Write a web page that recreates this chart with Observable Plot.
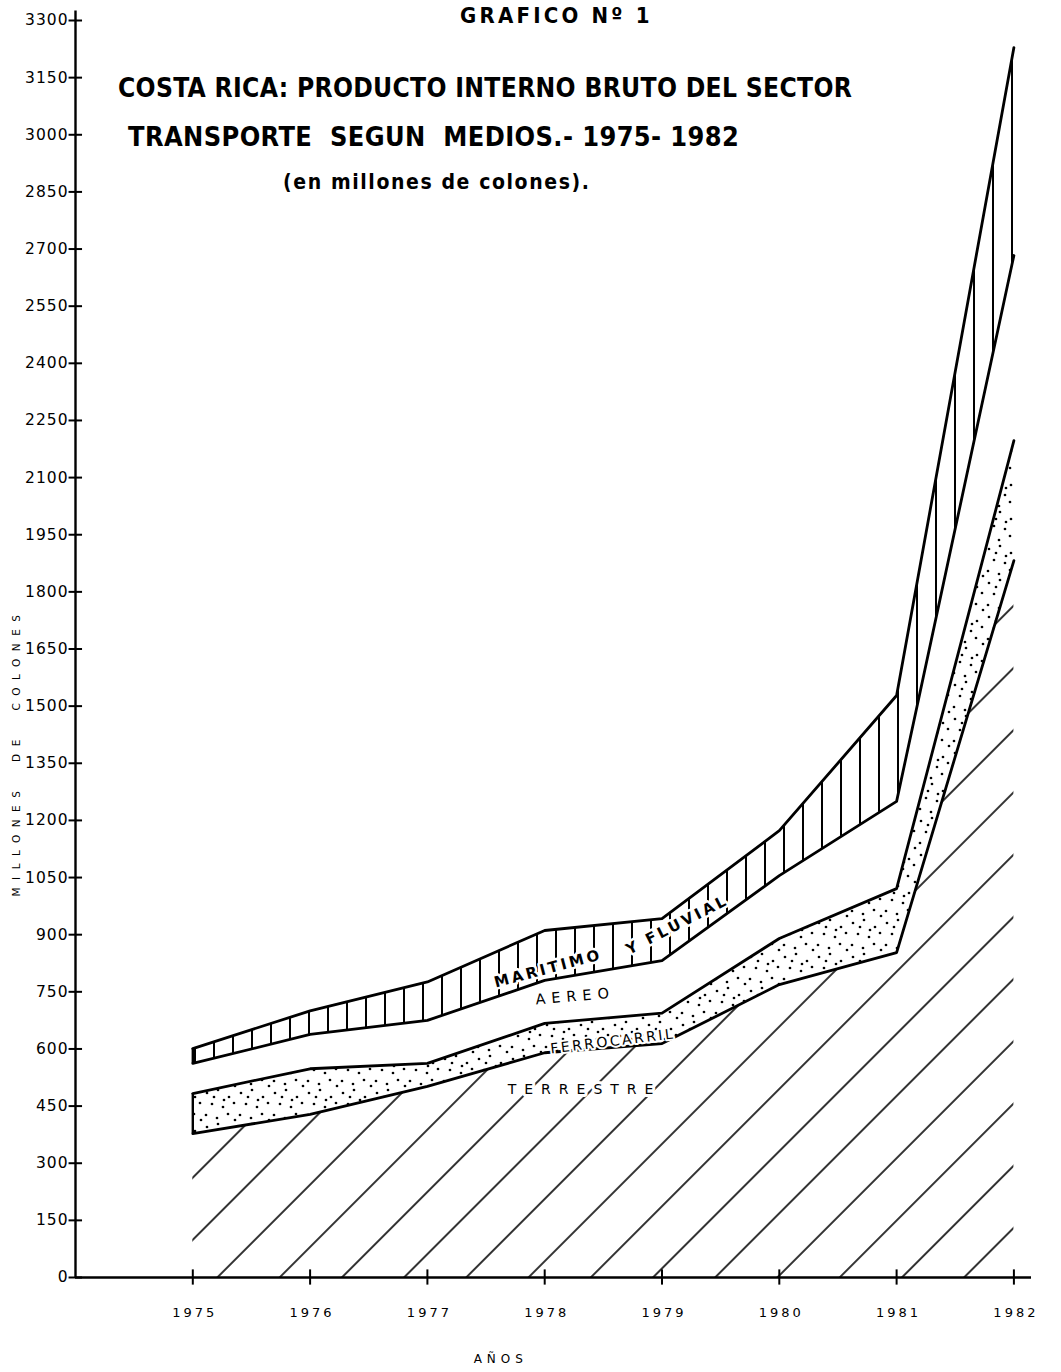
<!DOCTYPE html>
<html>
<head>
<meta charset="utf-8">
<script src="https://cdn.jsdelivr.net/npm/d3@7"></script>
<script src="https://cdn.jsdelivr.net/npm/@observablehq/plot@0.6"></script>
<style>
  html, body { margin: 0; padding: 0; background: white; }
  #wrap { position: relative; width: 1061px; height: 1372px; overflow: hidden; }
  .t { position: absolute; white-space: nowrap; color: #000; font-weight: bold;
       font-family: "Liberation Sans Narrow", "DejaVu Sans Condensed", "Roboto", sans-serif; }
  #ylab { position: absolute; left: 16px; top: 752px; transform: translate(-50%, -50%) rotate(-90deg);
          font-family: "DejaVu Sans", sans-serif; font-size: 10.5px; letter-spacing: 7.5px; white-space: nowrap; }
</style>
</head>
<body>
<div id="wrap">
  <div id="chart"></div>
  <div class="t" style="left:460px; top:3px; font-size:22px; letter-spacing:3.2px;">GRAFICO Nº 1</div>
  <div class="t" style="left:118px; top:73px; font-size:26.2px; letter-spacing:0.3px;">COSTA RICA: PRODUCTO INTERNO BRUTO DEL SECTOR</div>
  <div class="t" style="left:128px; top:121px; font-size:26.9px; letter-spacing:0.4px;">TRANSPORTE&nbsp; SEGUN&nbsp; MEDIOS.- 1975- 1982</div>
  <div class="t" style="left:283px; top:170px; font-size:21px; letter-spacing:1.6px;">(en millones de colones).</div>
  <div id="ylab">MILLONES&nbsp; DE&nbsp; COLONES</div>
</div>
<script>
// ---- data (millones de colones) ----
const years = [1975, 1976, 1977, 1978, 1979, 1980, 1981, 1982];
const layers = ["Terrestre", "Ferrocarril", "Aereo", "Maritimo y fluvial"];
const terrestre   = [378, 428, 502, 590, 614, 769, 853, 1882];
const ferrocarril = [105, 120, 60, 77, 80, 121, 168, 315];
const aereo       = [79, 90, 113, 113, 138, 165, 229, 486];
const maritimo    = [39, 62, 101, 131, 110, 118, 278, 546];
const yTicks = [0, 150, 300, 450, 600, 750, 900, 1050, 1200, 1350, 1500, 1650, 1800, 1950, 2100, 2250, 2400, 2550, 2700, 2850, 3000, 3150, 3300];
const xTicks = [1975, 1976, 1977, 1978, 1979, 1980, 1981, 1982];
const bandLabels = [
  {text: "MARITIMO", year: 1978.03, value: 811},
  {text: "Y FLUVIAL", year: 1979.13, value: 926},
  {text: "AEREO", year: 1978.26, value: 738},
  {text: "FERROCARRIL", year: 1978.58, value: 620},
  {text: "TERRESTRE", year: 1978.34, value: 494}
];

const series = [terrestre, ferrocarril, aereo, maritimo];
const data = layers.flatMap((layer, i) => years.map((year, j) => ({year, layer, value: series[i][j]})));

// left closing edges at 1975 for ferrocarril and maritimo bands
const cum = (i, j) => series.slice(0, i).reduce((s, a) => s + a[j], 0);
const edges = [1, 3].map(i => ({year: years[0], y1: cum(i, 0), y2: cum(i + 1, 0)}));

const tickFont = "DejaVu Sans, sans-serif";
const xAxisLo = 1974, xAxisHi = 1982.15;
const lab = {x: "year", y: "value", text: "text", fill: "black", stroke: "white", fontFamily: tickFont};

const svg = Plot.plot({
  width: 1061,
  height: 1372,
  marginLeft: 75,
  marginRight: 30,
  marginTop: 20,
  marginBottom: 95,
  x: {domain: [xAxisLo, xAxisHi], axis: null},
  y: {domain: [0, 3300], axis: null},
  color: {domain: layers, range: ["url(#p-terr)", "url(#p-ferro)", "white", "url(#p-mar)"]},
  style: {background: "white", color: "black", fontFamily: tickFont},
  marks: [
    Plot.areaY(data, Plot.stackY({x: "year", y: "value", z: "layer", fill: "layer", order: layers})),
    Plot.lineY(data, Plot.stackY2({x: "year", y: "value", z: "layer", order: layers, stroke: "black", strokeWidth: 2.8, strokeLinejoin: "round"})),
    Plot.ruleX(edges, {x: "year", y1: "y1", y2: "y2", stroke: "black", strokeWidth: 2.4}),
    // axes
    Plot.ruleX([xAxisLo], {y1: 0, y2: 3325, stroke: "black", strokeWidth: 2.4}),
    Plot.ruleY([0], {x1: xAxisLo, x2: xAxisHi, stroke: "black", strokeWidth: 2.4}),
    Plot.ruleY(yTicks, {x1: xAxisLo - 0.055, x2: xAxisLo + 0.06, stroke: "black", strokeWidth: 2}),
    Plot.ruleX(xTicks, {y1: -20, y2: 20, stroke: "black", strokeWidth: 2}),
    Plot.text(yTicks, {x: xAxisLo, y: d => d, text: d => String(d), textAnchor: "end", dx: -7, fontSize: 15.5, fill: "black"}),
    Plot.text(xTicks, {x: d => d, y: 0, text: d => String(d), dy: 35, dx: 2, fontSize: 13, fill: "black"}),
    Plot.text(["AÑOS"], {x: 1977.6, y: 0, text: d => d, dy: 82, dx: 3, fontSize: 12, fill: "black"}),
    // band labels
    Plot.text(bandLabels.slice(0, 1), {...lab, rotate: -15, fontSize: 15, fontWeight: "bold", strokeWidth: 5}),
    Plot.text(bandLabels.slice(1, 2), {...lab, rotate: -27, fontSize: 15, fontWeight: "bold", strokeWidth: 5}),
    Plot.text(bandLabels.slice(2, 3), {...lab, rotate: -5, fontSize: 14.5, strokeWidth: 0}),
    Plot.text(bandLabels.slice(3, 4), {...lab, rotate: -7, fontSize: 14, strokeWidth: 4}),
    Plot.text(bandLabels.slice(4, 5), {...lab, rotate: 0, fontSize: 14, strokeWidth: 6})
  ]
});

// patterns
const defs = d3.select(svg).insert("defs", ":first-child");
const pt = defs.append("pattern").attr("id", "p-terr").attr("patternUnits", "userSpaceOnUse")
  .attr("width", 44).attr("height", 10).attr("patternTransform", "rotate(45)");
pt.append("rect").attr("width", 44).attr("height", 10).attr("fill", "white");
pt.append("line").attr("x1", 1).attr("x2", 1).attr("y1", 0).attr("y2", 10).attr("stroke", "black").attr("stroke-width", 1.6);

const pm = defs.append("pattern").attr("id", "p-mar").attr("patternUnits", "userSpaceOnUse")
  .attr("width", 19).attr("height", 10).attr("x", 4);
pm.append("rect").attr("width", 19).attr("height", 10).attr("fill", "white");
pm.append("line").attr("x1", 1).attr("x2", 1).attr("y1", 0).attr("y2", 10).attr("stroke", "black").attr("stroke-width", 2);

const pf = defs.append("pattern").attr("id", "p-ferro").attr("patternUnits", "userSpaceOnUse")
  .attr("width", 34).attr("height", 34);
pf.append("rect").attr("width", 34).attr("height", 34).attr("fill", "white");
[[3,5],[14,2],[25,9],[8,16],[19,19],[30,15],[2,27],[13,30],[24,26],[31,32],[10,9],[20,12]].forEach(([cx, cy]) =>
  pf.append("circle").attr("cx", cx).attr("cy", cy).attr("r", 1.35).attr("fill", "black"));

// letter spacing for the lettering
const spacing = {"MARITIMO": 3, "Y FLUVIAL": 3, "AEREO": 6, "FERROCARRIL": 2.5, "TERRESTRE": 8, "AÑOS": 5};
d3.select(svg).selectAll("text").each(function() {
  const s = this.textContent;
  if (spacing[s] != null) this.style.letterSpacing = spacing[s] + "px";
  else if (/^\d{4}$/.test(s) && +s < 1990 && +s > 1970) this.style.letterSpacing = "3px";
  else if (/^\d+$/.test(s)) this.style.letterSpacing = "1px";
});

document.getElementById("chart").appendChild(svg);
</script>
</body>
</html>
